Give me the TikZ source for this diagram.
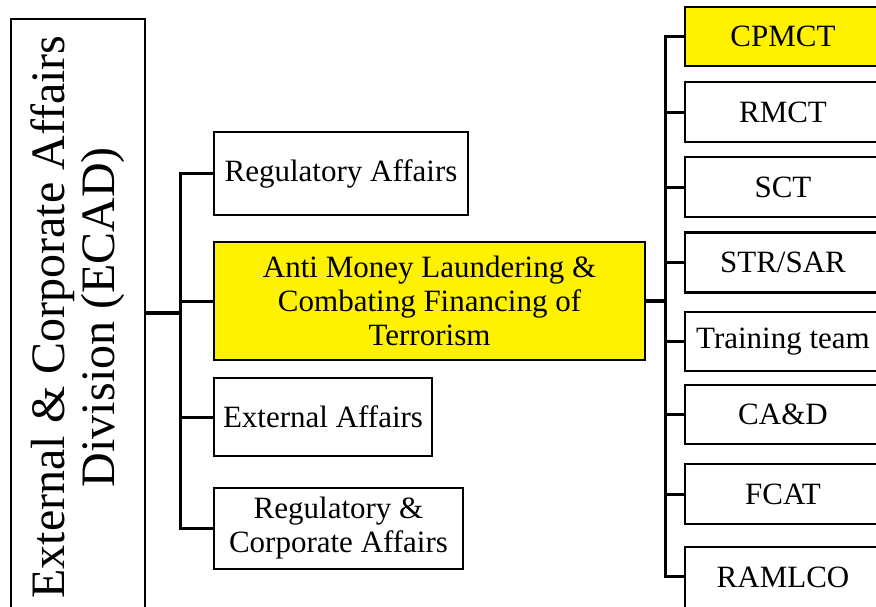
\documentclass[tikz,border=0pt]{standalone}
\usepackage{fontspec}
\setmainfont{Liberation Serif}

\tikzset{
  unit/.style={draw, line width=2.5pt, inner sep=0pt, align=center,
    font=\fontsize{31}{34}\selectfont},
  hilite/.style={unit, fill=yellow},
  link/.style={line width=3pt},
}

\begin{document}
\begin{tikzpicture}[x=1pt, y=-1pt]

\useasboundingbox (0,0) rectangle (876,606);
\clip (0,0) rectangle (876,606);

% Division box (runs off the bottom edge)
\node[unit, rotate=90, minimum width=596pt, minimum height=134pt,
  font=\fontsize{48}{50}\selectfont] (ecad) at (78,317)
  {External \& Corporate Affairs\\Division (ECAD)};

% Departments
\node[unit, minimum width=254pt, minimum height=83pt] (regaff) at (341,173.5) {Regulatory Affairs};
\node[hilite, minimum width=431pt, minimum height=118pt] (aml) at (429.5,301)
  {Anti Money Laundering \&\\Combating Financing of\\Terrorism};
\node[unit, minimum width=218pt, minimum height=78pt] (extaff) at (323,417) {External Affairs};
\node[unit, minimum width=249pt, minimum height=81pt] (regcorp) at (338.5,528.5)
  {Regulatory \&\\Corporate Affairs};

% Teams under AML/CFT
\node[hilite, minimum width=196pt, minimum height=59pt] (cpmct) at (783,36.5) {CPMCT};
\node[unit, minimum width=196pt, minimum height=60pt] (rmct) at (783,112) {RMCT};
\node[unit, minimum width=196pt, minimum height=60pt] (sct) at (783,187) {SCT};
\node[unit, minimum width=196pt, minimum height=60pt] (strsar) at (783,262.5) {STR/SAR};
\node[unit, minimum width=196pt, minimum height=59pt] (training) at (783,341.5) {Training team};
\node[unit, minimum width=196pt, minimum height=59pt] (cad) at (783,414.5) {CA\&D};
\node[unit, minimum width=196pt, minimum height=60pt] (fcat) at (783,494) {FCAT};
% last one is cut by the page edge, so lift its text a little
\node[unit, minimum width=196pt, minimum height=72pt, text depth=12pt]
  (ramlco) at (783,583) {RAMLCO};

% Division to departments
\coordinate (trunkL) at (180,313);
\draw[link, line width=3.5pt] (trunkL -| ecad.south) -- (trunkL);
\draw[link] (regaff.west) -| (trunkL);
\draw[link] (regcorp.west) -| (trunkL);
\draw[link] (aml.west) -- (aml.west -| trunkL);
\draw[link] (extaff.west) -- (extaff.west -| trunkL);

% AML/CFT to teams
\coordinate (trunkR) at (665,301);
\coordinate (ramlcoIn) at (685,576);
\draw[link, line width=4pt] (aml.east) -- (trunkR);
\draw[link] (cpmct.west) -| (trunkR);
\draw[link] (ramlcoIn) -| (trunkR);
\draw[link] (rmct.west) -- (rmct.west -| trunkR);
\draw[link] (sct.west) -- (sct.west -| trunkR);
\draw[link] (strsar.west) -- (strsar.west -| trunkR);
\draw[link] (training.west) -- (training.west -| trunkR);
\draw[link] (cad.west) -- (cad.west -| trunkR);
\draw[link] (fcat.west) -- (fcat.west -| trunkR);

\end{tikzpicture}
\end{document}
